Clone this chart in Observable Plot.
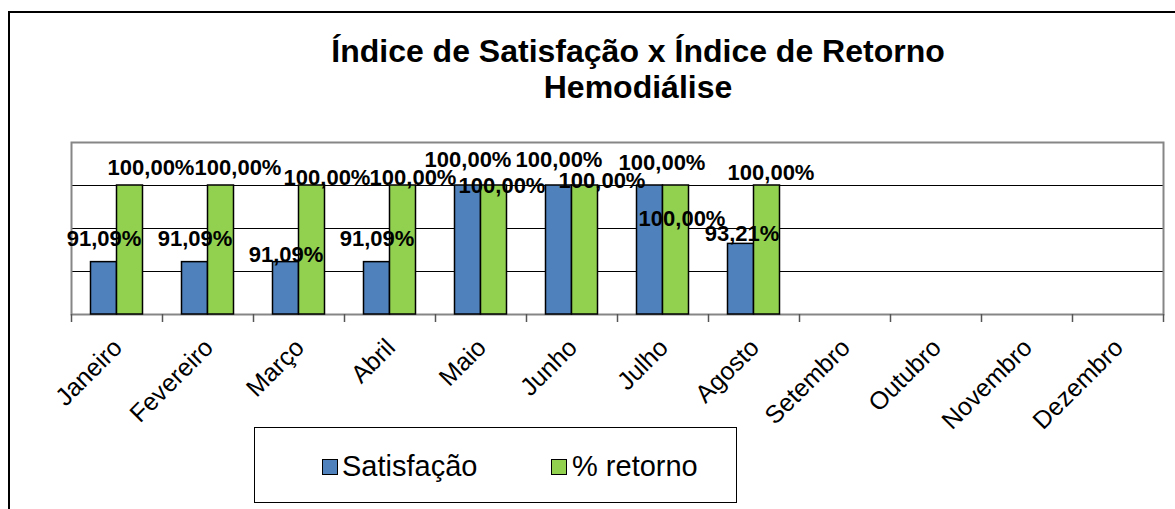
<!DOCTYPE html>
<html><head><meta charset="utf-8">
<script src="https://cdn.jsdelivr.net/npm/d3@7"></script>
<script src="https://cdn.jsdelivr.net/npm/@observablehq/plot@0.6"></script>
<style>
body{margin:0;background:#fff;font-family:"Liberation Sans",Arial,sans-serif;}
#wrap{position:relative;width:1175px;height:509px;overflow:hidden;background:#fff;}
#border{position:absolute;left:8px;top:11px;width:1300px;height:700px;border-left:2px solid #000;border-top:2px solid #000;}
#title{position:absolute;left:0;top:33px;width:1276px;text-align:center;font-weight:bold;font-size:32px;line-height:36px;color:#000;}
#chart{position:absolute;left:0;top:0;}
#legend{position:absolute;left:254px;top:427px;width:481px;height:74px;border:1.5px solid #000;background:#fff;}
.sw{position:absolute;width:14px;height:14px;border:1.5px solid #000;}
.lt{position:absolute;font-size:29px;line-height:29px;color:#000;white-space:nowrap;}
</style></head>
<body>
<div id="wrap">
  <div id="border"></div>
  <div id="title">Índice de Satisfação x Índice de Retorno<br>Hemodiálise</div>
  <div id="chart"></div>
  <div id="legend"></div>
</div>
<script>
const months = ["Janeiro","Fevereiro","Março","Abril","Maio","Junho","Julho","Agosto","Setembro","Outubro","Novembro","Dezembro"];
const satisfacao = [91.09, 91.09, 91.09, 91.09, 100, 100, 100, 93.21, null, null, null, null];
const retorno = [100, 100, 100, 100, 100, 100, 100, 100, null, null, null, null];
const seriesNames = ["Satisfação", "% retorno"];
const seriesColors = ["#4F81BD", "#92D050"];
const yTicks = [85, 90, 95, 100, 105];

// label nudges (px) relative to each bar's top-centre, as placed in the original
const satNudge = [[0,-23],[0,-23],[0,-7],[0,-23],[0,-26],[0,-26],[12,-23],[1,-10]];
const retNudge = [[21,-18],[17,-18],[15,-8],[10,-8],[8,0],[17,-5],[6,33],[4,-13]];

const W = 1175, H = 509, mL = 71, mR = 12, mT = 142, mB = 195;
const step = (W - mL - mR) / months.length;
const barW = 26;
const outer = (step - 2 * barW) / 2;

const fmt = v => v.toFixed(2).replace(".", ",") + "%";

const sat = months.map((m, i) => ({month: m, value: satisfacao[i], i})).filter(d => d.value != null);
const ret = months.map((m, i) => ({month: m, value: retorno[i], i})).filter(d => d.value != null);

const labelMarks = [];
sat.forEach(d => labelMarks.push(Plot.text([d], {x: "month", y: "value", text: v => fmt(v.value),
  dx: -barW/2 + satNudge[d.i][0], dy: satNudge[d.i][1], fontSize: 22, fontWeight: "bold", fill: "#000", lineAnchor: "middle"})));
ret.forEach(d => labelMarks.push(Plot.text([d], {x: "month", y: "value", text: v => fmt(v.value),
  dx: barW/2 + retNudge[d.i][0], dy: retNudge[d.i][1], fontSize: 22, fontWeight: "bold", fill: "#000", lineAnchor: "middle"})));

const chart = Plot.plot({
  width: W, height: H,
  marginLeft: mL, marginRight: mR, marginTop: mT, marginBottom: mB,
  style: {background: "transparent", fontFamily: "'Liberation Sans', Arial, sans-serif", overflow: "visible"},
  x: {domain: months, padding: 0, axis: null, label: null},
  y: {domain: [yTicks[0], yTicks[yTicks.length - 1]], axis: null, label: null},
  marks: [
    Plot.ruleY(yTicks.slice(1, -1), {stroke: "#000", strokeWidth: 1.2}),
    Plot.frame({stroke: "#868686", strokeWidth: 2}),
    Plot.axisX({ticks: months, tickSize: 8, tickFormat: () => "", label: null, dx: -step/2, stroke: "#555", strokeWidth: 1.5}),
    Plot.axisX({ticks: [months[months.length - 1]], tickSize: 8, tickFormat: () => "", label: null, dx: step/2, stroke: "#555", strokeWidth: 1.5}),
    Plot.barY(sat, {x: "month", y1: yTicks[0], y2: "value", fill: seriesColors[0], stroke: "#000", strokeWidth: 1.5,
      insetLeft: outer, insetRight: outer + barW}),
    Plot.barY(ret, {x: "month", y1: yTicks[0], y2: "value", fill: seriesColors[1], stroke: "#000", strokeWidth: 1.5,
      insetLeft: outer + barW, insetRight: outer}),
    ...labelMarks,
    Plot.text(months, {x: d => d, frameAnchor: "bottom", dx: 1, dy: 29, rotate: -45, textAnchor: "end",
      lineAnchor: "middle", fontSize: 25, fill: "#000"})
  ]
});
document.getElementById("chart").appendChild(chart);

const leg = document.getElementById("legend");
const swX = [67, 296], txX = [87, 317];
seriesNames.forEach((name, k) => {
  const s = document.createElement("div");
  s.className = "sw"; s.style.left = swX[k] + "px"; s.style.top = "31px"; s.style.background = seriesColors[k];
  leg.appendChild(s);
  const t = document.createElement("div");
  t.className = "lt"; t.style.left = txX[k] + "px"; t.style.top = "24px"; t.textContent = name;
  leg.appendChild(t);
});
</script>
</body></html>
